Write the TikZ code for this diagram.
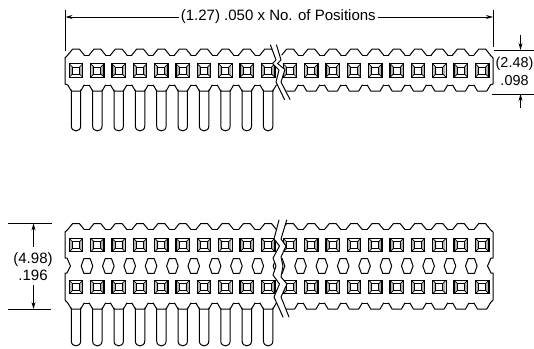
\documentclass[tikz,border=0pt]{standalone}
\usepackage{fontspec}
\setmainfont{Liberation Sans}
\usetikzlibrary{arrows.meta}
\tikzset{
  ol/.style={draw=black,line width=1pt,line join=round,line cap=round},
  dim/.style={draw=black,line width=0.8pt},
  arr/.style={dim,-{Stealth[length=7pt,width=4pt]}},
  lbl/.style={font=\fontsize{15pt}{17.6pt}\selectfont,inner sep=0pt,align=center,fill=white},
  sq/.pic={
    \fill[gray!60] (-6,-6)--(-3.2,-3.2)--(-3.2,3.2)--(-6,6)--cycle;
    \fill[gray!60] (6,-6)--(3.2,-3.2)--(3.2,3.2)--(6,6)--cycle;
    \draw[line width=1.3pt] (-6.7,-6.7) rectangle (6.7,6.7);
    \draw[line width=1pt] (-3.5,-3.5) rectangle (3.5,3.5);
    \draw[line width=0.7pt] (-6.7,-6.7)--(-3.5,-3.5) (6.7,-6.7)--(3.5,-3.5) (-6.7,6.7)--(-3.5,3.5) (6.7,6.7)--(3.5,3.5);
  },
  hex/.pic={
    \draw[ol] (-5.8,0)--(-3.2,-7.3)--(3.2,-7.3)--(5.8,0)--(3.2,7.3)--(-3.2,7.3)--cycle;
  }
}
\newcommand{\pitch}{21.35}
\begin{document}
\begin{tikzpicture}[x=1pt,y=-1pt]
\path[use as bounding box,clip] (0,0) rectangle (534,348);
% ---------- top view ----------
\foreach \i in {0,...,9}{
  \pgfmathsetmacro\cx{76+\i*\pitch}
  \draw[ol,fill=white] (\cx-4.7,90) -- (\cx-4.7,126) .. controls (\cx-4.7,132.5) and (\cx+4.7,132.5) .. (\cx+4.7,126) -- (\cx+4.7,90);
}
\draw[ol] (65,58) -- (65,84) -- (67.8,85);
\draw[ol] (65,58) -- (67.8,55);
\draw[ol] (493,58) -- (493,84) -- (490.2,85);
\draw[ol] (493,58) -- (490.2,55);
\foreach \i in {0,...,19}{
  \pgfmathsetmacro\cx{\i<10 ? 76+\i*\pitch : 290+(\i-10)*\pitch}
  \draw[ol] (\cx-8.2,55) -- (\cx-3.3,49) -- (\cx+3.3,49) -- (\cx+8.2,55);
  \draw[ol] (\cx-8.2,85) -- (\cx-4.7,91) -- (\cx+4.7,91) -- (\cx+8.2,85);
  \pic at (\cx,70.5) {sq};
}
\foreach \i in {0,...,8}{
  \pgfmathsetmacro\cx{76+\i*\pitch}
  \draw[ol] (\cx+8.2,55) -- (\cx+\pitch-8.2,55);
  \draw[ol] (\cx+8.2,85) -- (\cx+\pitch-8.2,85);
  \pgfmathsetmacro\dx{290+\i*\pitch}
  \draw[ol] (\dx+8.2,55) -- (\dx+\pitch-8.2,55);
  \draw[ol] (\dx+8.2,85) -- (\dx+\pitch-8.2,85);
}
\fill[white] (270.5,45)--(276,60)--(272.5,63.5)--(279,70)--(276,82)--(284.5,99.5)--(291,99.5)--(281,82)--(285,69.5)--(277.5,63.5)--(281,60)--(276.5,45)--cycle;
\draw[ol] (270.5,45)--(276,60)--(272.5,63.5)--(279,70)--(276,82)--(284.5,99.5);
\draw[ol] (276.5,45)--(281,60)--(277.5,63.5)--(285,69.5)--(281,82)--(290,99.5);
% top dimensions
\coordinate (wl) at (65.5,17);
\coordinate (wr) at (493,17);
\coordinate (wlt) at (65.5,10);
\coordinate (wlb) at (65.5,51);
\coordinate (wrt) at (493,10);
\coordinate (wrb) at (493,47);
\draw[dim] (wlt)--(wlb);
\draw[dim] (wrt)--(wrb);
\node[lbl,inner xsep=2pt] (wlab) at (278.3,17) {(1.27) .050 x No. of Positions};
\draw[arr] (wlab)--(wl);
\draw[arr] (wlab)--(wr);
\coordinate (ha) at (494,50);
\coordinate (hab) at (534,50);
\coordinate (hb) at (492,94);
\coordinate (hbb) at (534,94);
\draw[dim] (ha)--(hab);
\draw[dim] (hb)--(hbb);
\coordinate (hau) at (520.5,35);
\coordinate (hat) at (520.5,50);
\coordinate (hbu) at (520.5,107.5);
\coordinate (hbt) at (520.5,94);
\draw[arr] (hau)--(hat);
\draw[arr] (hbu)--(hbt);
\node[lbl,fill=none,font=\fontsize{14.4pt}{17.4pt}\selectfont] (hlab) at (514.5,71.5) {(2.48)\\.098};
% ---------- bottom view ----------
\foreach \i in {0,...,9}{
  \pgfmathsetmacro\cx{76+\i*\pitch}
  \draw[ol,fill=white] (\cx-4.7,308) -- (\cx-4.7,341) .. controls (\cx-4.7,347.5) and (\cx+4.7,347.5) .. (\cx+4.7,341) -- (\cx+4.7,308);
}
\draw[ol] (67.8,229.5)--(65,232)--(65,258)--(67,258)--(70.5,266)--(67,273)--(65,273)--(65,300)--(67.8,303);
\draw[ol] (490.2,229.5)--(493,232)--(493,258)--(491,258)--(487.5,266)--(491,273)--(493,273)--(493,300)--(490.2,303);
\foreach \i in {0,...,19}{
  \pgfmathsetmacro\cx{\i<10 ? 76+\i*\pitch : 290+(\i-10)*\pitch}
  \draw[ol] (\cx-8.2,229.5) -- (\cx-3.3,223.5) -- (\cx+3.3,223.5) -- (\cx+8.2,229.5);
  \draw[ol] (\cx-8.2,303) -- (\cx-4.7,309) -- (\cx+4.7,309) -- (\cx+8.2,303);
  \pic at (\cx,245) {sq};
  \pic at (\cx,287) {sq};
}
\foreach \i in {0,...,8}{
  \pgfmathsetmacro\cx{76+\i*\pitch}
  \draw[ol] (\cx+8.2,229.5) -- (\cx+\pitch-8.2,229.5);
  \draw[ol] (\cx+8.2,303) -- (\cx+\pitch-8.2,303);
  \pgfmathsetmacro\dx{290+\i*\pitch}
  \draw[ol] (\dx+8.2,229.5) -- (\dx+\pitch-8.2,229.5);
  \draw[ol] (\dx+8.2,303) -- (\dx+\pitch-8.2,303);
  \pgfmathsetmacro\hx{87+\i*\pitch}
  \pic at (\hx,266) {hex};
  \pgfmathsetmacro\hy{300.5+\i*\pitch}
  \pic at (\hy,266) {hex};
}
\pic at (279,266) {hex};
\fill[white] (279,220)--(274,239)--(279.5,246)--(273,258)--(276,266)--(273,275)--(279.5,284)--(274,297)--(283,317)--(289,317)--(281,297)--(287,284)--(281,277)--(283,266)--(281,257)--(286,246)--(281,239)--(286.7,220)--cycle;
\draw[ol] (279,220)--(274,239)--(279.5,246)--(273,258)--(276,266)--(273,275)--(279.5,284)--(274,297)--(283,317);
\draw[ol] (286.7,220)--(281,239)--(286,246)--(281,257)--(283,266)--(281,277)--(287,284)--(281,297)--(289,317);
% left dimension
\coordinate (da) at (8,223.5);
\coordinate (dab) at (52,223.5);
\coordinate (db) at (8,309);
\coordinate (dbb) at (51,309);
\draw[dim] (da)--(dab);
\draw[dim] (db)--(dbb);
\coordinate (dat) at (33.5,223.5);
\coordinate (dbt) at (33.5,309);
\coordinate (das) at (33.5,247);
\coordinate (dbs) at (33.5,285);
\node[lbl,fill=none] (dlab) at (33,266.5) {(4.98)\\.196};
\draw[arr] (das) -- (dat);
\draw[arr] (dbs) -- (dbt);
\end{tikzpicture}
\end{document}
